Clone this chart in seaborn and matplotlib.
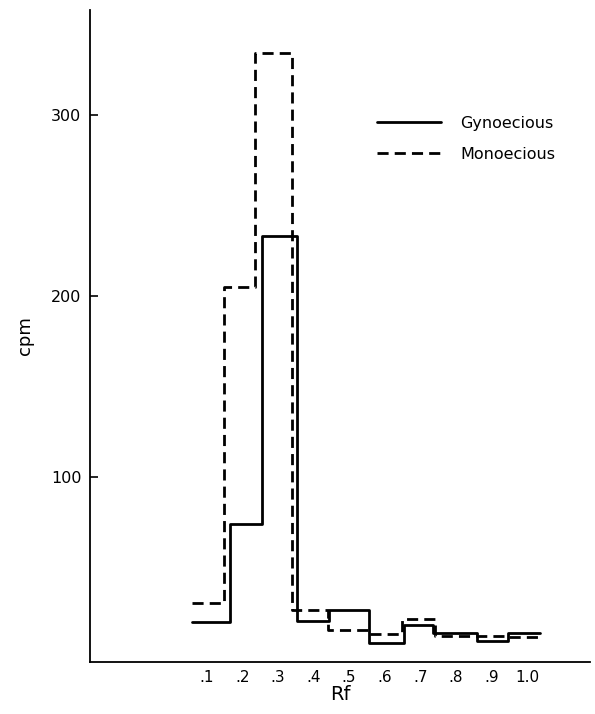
import numpy as np
import pandas as pd
import matplotlib
matplotlib.use("Agg")
import matplotlib.pyplot as plt
import seaborn as sns

# --- data --------------------------------------------------------------------
GYN_EDGES = [0.059, 0.166, 0.256, 0.354, 0.444, 0.556, 0.654, 0.736, 0.860, 0.947, 1.037]
GYN_CPM = [20, 74, 233, 20.5, 26.6, 8.5, 18.3, 13.9, 9.4, 13.9]

MON_EDGES = [0.059, 0.149, 0.236, 0.340, 0.441, 0.556, 0.649, 0.742, 0.854, 0.947, 1.037]
MON_CPM = [30.5, 205, 334, 26.6, 15.5, 13.3, 21.5, 12.4, 12.2, 11.5]

X_TICKS = [0.1, 0.2, 0.3, 0.4, 0.5, 0.6, 0.7, 0.8, 0.9, 1.0]
X_TICK_LABELS = [".1", ".2", ".3", ".4", ".5", ".6", ".7", ".8", ".9", "1.0"]
Y_TICKS = [100, 200, 300]


def step_frame(edges, values, name):
    # repeat last value so the final bin gets its horizontal run
    return pd.DataFrame({"rf": edges, "cpm": list(values) + [values[-1]], "type": name})


df = pd.concat([step_frame(GYN_EDGES, GYN_CPM, "Gynoecious"),
                step_frame(MON_EDGES, MON_CPM, "Monoecious")], ignore_index=True)

sns.set_style("ticks", {"text.color": "black", "axes.labelcolor": "black",
                        "xtick.color": "black", "ytick.color": "black",
                        "axes.edgecolor": "black"})
plt.rcParams["font.family"] = ["DejaVu Sans"]

fig = plt.figure(figsize=(5.95, 7.14), dpi=100)
ax = fig.add_axes([0.151, 0.073, 0.841, 0.913])

sns.lineplot(data=df, x="rf", y="cpm", style="type", color="black",
             dashes={"Gynoecious": "", "Monoecious": (4, 2.2)},
             drawstyle="steps-post", estimator=None, sort=False,
             linewidth=2.0, ax=ax)

ax.set_xlim(-0.228, 1.177)
ax.set_ylim(-2, 358)
sns.despine(ax=ax)
for side in ("left", "bottom"):
    ax.spines[side].set_linewidth(1.3)

ax.set_xticks(X_TICKS)
ax.set_xticklabels(X_TICK_LABELS, fontsize=11)
ax.tick_params(axis="x", length=0, pad=6)
ax.set_yticks(Y_TICKS)
ax.set_yticklabels([str(v) for v in Y_TICKS], fontsize=11.5)
ax.tick_params(axis="y", direction="in", length=6, width=1.2, pad=6)

ax.set_xlabel("Rf", fontsize=14, labelpad=0)
ax.set_ylabel("cpm", fontsize=13, labelpad=12)

leg = ax.legend(title=None, frameon=False, fontsize=11.5, handlelength=4.0,
                handletextpad=1.2, labelspacing=1.0,
                loc="upper left", bbox_to_anchor=(0.545, 0.86))
for t in leg.get_texts():
    t.set_color("black")

fig.savefig("out.png", dpi=100)
